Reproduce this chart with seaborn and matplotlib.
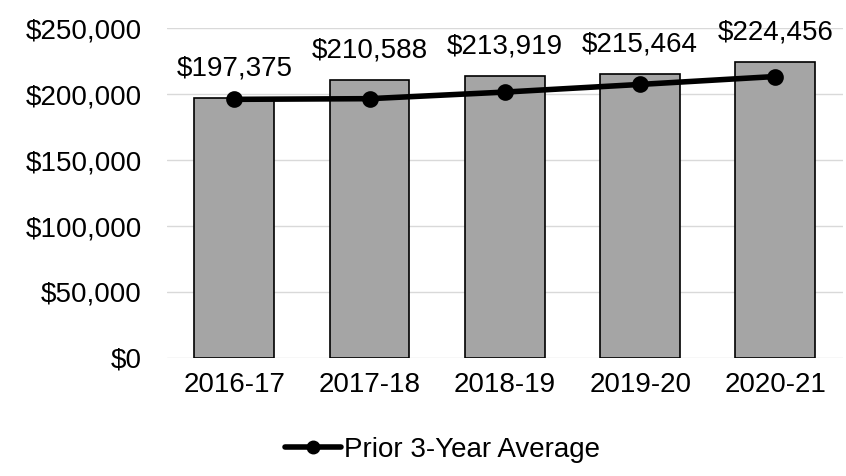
import matplotlib
matplotlib.use("Agg")
import matplotlib.pyplot as plt
import seaborn as sns
import pandas as pd
from matplotlib.lines import Line2D
from matplotlib.ticker import FuncFormatter

years = ["2016-17", "2017-18", "2018-19", "2019-20", "2020-21"]
salary = [197375, 210588, 213919, 215464, 224456]
prior_avg = [196000, 196500, 201500, 207300, 213300]

sns.set_theme(style="white")
plt.rcParams["font.family"] = ["Liberation Sans", "DejaVu Sans"]
plt.rcParams["text.color"] = "black"

df = pd.DataFrame({"year": years, "salary": salary, "avg": prior_avg})

fig = plt.figure(figsize=(8.46, 4.76), dpi=100)
ax = fig.add_axes([0.197, 0.248, 0.7995, 0.693])

sns.barplot(data=df, x="year", y="salary", color="#A5A5A5", edgecolor="black",
            linewidth=1.2, width=0.59, saturation=1, ax=ax, zorder=2)
sns.pointplot(data=df, x="year", y="avg", color="black", errorbar=None,
              markers="o", linewidth=4, markersize=9, ax=ax)
for c in ax.collections:
    c.set_zorder(4)
for l in ax.lines:
    l.set_zorder(4)

for i, v in enumerate(salary):
    ax.annotate(f"${v:,.0f}", (i, v), xytext=(0, 21), textcoords="offset points",
                ha="center", va="center", fontsize=20, color="black")

ax.set_ylim(0, 250000)
ax.set_xlim(-0.5, 4.5)
ax.set_yticks([0, 50000, 100000, 150000, 200000, 250000])
ax.yaxis.set_major_formatter(FuncFormatter(lambda v, p: f"${v:,.0f}"))
ax.grid(axis="y", color="#D9D9D9", linewidth=1)
ax.set_axisbelow(True)
for s in ax.spines.values():
    s.set_visible(False)
ax.tick_params(axis="both", length=0, labelsize=20, colors="black")
ax.tick_params(axis="x", pad=10)
ax.tick_params(axis="y", pad=18)
ax.set_xlabel("")
ax.set_ylabel("")

handle = Line2D([0], [0], color="black", linewidth=4, marker="o", markersize=9)
leg = fig.legend([handle], ["Prior 3-Year Average"], loc="center",
                 bbox_to_anchor=(0.523, 0.055), frameon=False, fontsize=20,
                 handlelength=2.0, handletextpad=0.1)
for t in leg.get_texts():
    t.set_color("black")

fig.savefig("out.png", dpi=100)
